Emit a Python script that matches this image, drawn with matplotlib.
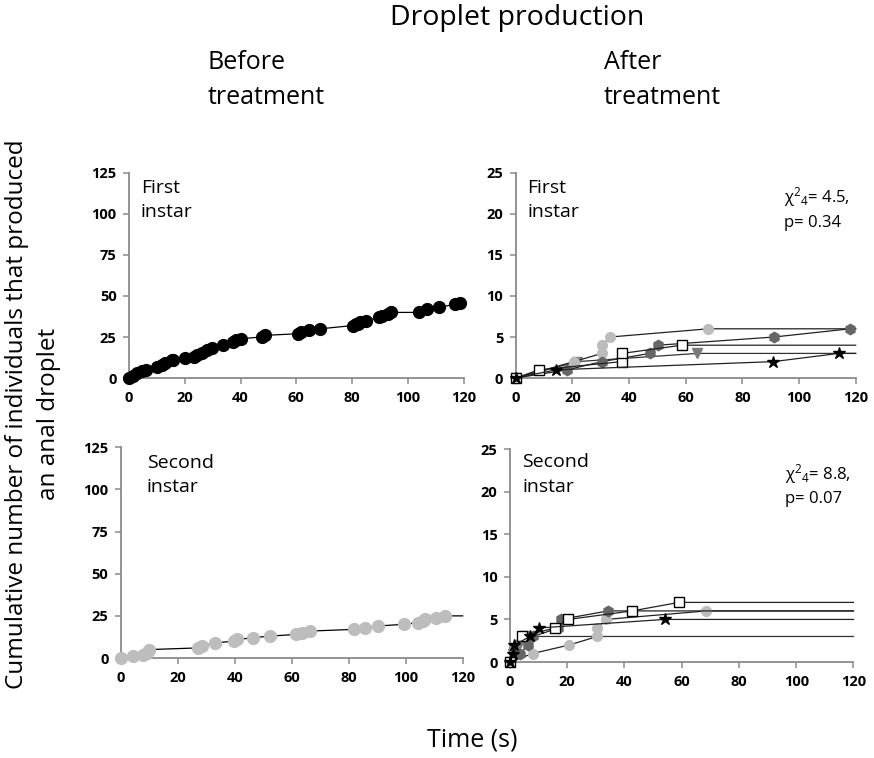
import matplotlib
matplotlib.use("Agg")
import matplotlib.pyplot as plt

plt.rcParams['font.family'] = ['Open Sans', 'DejaVu Sans']
plt.rcParams['mathtext.fontset'] = 'custom'
plt.rcParams['mathtext.rm'] = 'Open Sans'
plt.rcParams['mathtext.it'] = 'Open Sans'

XMAX = 120
x_ticks = [0, 20, 40, 60, 80, 100, 120]
y_ticks_before = [0, 25, 50, 75, 100, 125]
y_ticks_after = [0, 5, 10, 15, 20, 25]

# Before treatment, first instar
tl_x = [0, 1.6, 2.7, 4.5, 6.1, 9.9, 11.7, 12.9, 15.3, 15.9, 20, 23.4, 24.5, 26, 27.8, 29.9,
        33.8, 37.4, 38.5, 40.3, 47.5, 48.7, 60.6, 61.8, 64.4, 68.6, 80.3, 81.3, 82.1, 82.9,
        85, 89.6, 90.8, 92.8, 94, 104, 107, 111.3, 116.7, 118.8]
tl_y = [0, 1, 3, 4, 5, 7, 8, 9, 11, 11, 12, 13, 14, 15, 17, 18, 20, 22, 23, 24, 25, 26, 27,
        28, 29, 30, 32, 33, 33, 34, 35, 37, 38, 39, 40, 40, 42, 43, 45, 46]

# Before treatment, second instar
bl_x = [0, 4.3, 7.8, 9, 9.9, 27, 28.5, 33.1, 39.8, 40.9, 46.2, 52.3, 61.6, 63.4, 66.5, 82,
        85.7, 90.3, 99.4, 104.3, 106, 106.9, 110.7, 113.8]
bl_y = [0, 1, 2, 3, 5, 6, 7, 9, 10, 11, 12, 13, 14, 15, 16, 17, 18, 19, 20, 21, 22, 23, 24, 25]

# After treatment, first instar
tr_light_x = [0, 20.6, 30.4, 30.6, 33.3, 68]
tr_light_y = [0, 2, 3, 4, 5, 6]
tr_dark_x = [0, 18.2, 30.4, 47.4, 50.2, 91.2, 118]
tr_dark_y = [0, 1, 2, 3, 4, 5, 6]
tr_sq_x = [0, 8.2, 37.4, 37.6, 58.6]
tr_sq_y = [0, 1, 2, 3, 4]
tr_tri_x = [0, 21.8, 64.1]
tr_tri_y = [0, 2, 3]
tr_star_x = [0, 14.3, 91, 114]
tr_star_y = [0, 1, 2, 3]

# After treatment, second instar
br_light_x = [0, 7.9, 20.7, 30.5, 30.5, 33.5, 68.6]
br_light_y = [0, 1, 2, 3, 4, 5, 6]
br_dark_x = [0, 3.5, 6.4, 8.1, 16.9, 17.7, 34.3]
br_dark_y = [0, 1, 2, 3, 4, 5, 6]
br_sq_x = [0, 4.1, 15.7, 20.3, 42.7, 59]
br_sq_y = [0, 3, 4, 5, 6, 7]
br_tri_x = [0, 1, 3, 5]
br_tri_y = [0, 1, 2, 3]
br_star_x = [0, 1.2, 1.5, 7, 10.2, 54]
br_star_y = [0, 1, 2, 3, 4, 5]

fig = plt.figure(figsize=(8.74, 7.58), dpi=100)

ax_tl = fig.add_axes([0.1476, 0.5013, 0.383, 0.2705])
ax_tr = fig.add_axes([0.590, 0.5013, 0.389, 0.2705])
ax_bl = fig.add_axes([0.1384, 0.1319, 0.391, 0.278])
ax_br = fig.add_axes([0.5835, 0.1266, 0.393, 0.281])

SPINE = '#8a8a8a'


def style(ax, yticks):
    ax.set_xlim(0, XMAX)
    ax.set_ylim(0, yticks[-1])
    ax.set_xticks(x_ticks)
    ax.set_yticks(yticks)
    for s in ['top', 'right']:
        ax.spines[s].set_visible(False)
    for s in ['left', 'bottom']:
        ax.spines[s].set_color(SPINE)
        ax.spines[s].set_linewidth(1.3)
    ax.tick_params(axis='both', direction='out', length=4, width=1.1, color=SPINE,
                   labelsize=10.5, pad=5)
    for lab in ax.get_xticklabels() + ax.get_yticklabels():
        lab.set_fontweight('bold')
    ax.patch.set_alpha(0)


style(ax_tl, y_ticks_before)
style(ax_bl, y_ticks_before)
style(ax_tr, y_ticks_after)
style(ax_br, y_ticks_after)

LW = 0.9

# Before treatment panels
ax_tl.plot(tl_x, tl_y, color='black', lw=LW, marker='o', ms=8.5, mfc='black', mec='black',
           clip_on=False, zorder=3)
ax_bl.plot(bl_x + [XMAX], bl_y + [bl_y[-1]], color='black', lw=LW, zorder=2, clip_on=False)
ax_bl.plot(bl_x, bl_y, ls='none', marker='o', ms=8.5, mfc='#bdbdbd', mec='#bdbdbd',
           clip_on=False, zorder=3)


def series(ax, xs, ys, marker, ms, fc, ec, lc, z):
    ax.plot(xs + [XMAX], ys + [ys[-1]], color=lc, lw=LW, zorder=z, clip_on=False)
    ax.plot(xs, ys, ls='none', marker=marker, ms=ms, mfc=fc, mec=ec, mew=1.0,
            zorder=z + 0.5, clip_on=False)


LIGHT = '#bcbcbc'
DARK = '#666666'
TRI = '#7a7a7a'

series(ax_tr, tr_tri_x, tr_tri_y, 'v', 7, TRI, TRI, '#333333', 3)
series(ax_tr, tr_light_x, tr_light_y, 'o', 7, LIGHT, LIGHT, '#222222', 4)
series(ax_tr, tr_dark_x, tr_dark_y, 'h', 7.5, DARK, DARK, '#222222', 5)
series(ax_tr, tr_sq_x, tr_sq_y, 's', 7, 'white', 'black', '#222222', 6)
series(ax_tr, tr_star_x, tr_star_y, '*', 9, 'black', 'black', '#222222', 7)

series(ax_br, br_tri_x, br_tri_y, 'v', 7, TRI, TRI, '#333333', 3)
series(ax_br, br_light_x, br_light_y, 'o', 7, LIGHT, LIGHT, '#222222', 4)
series(ax_br, br_dark_x, br_dark_y, 'h', 7.5, DARK, DARK, '#222222', 5)
series(ax_br, br_sq_x, br_sq_y, 's', 7, 'white', 'black', '#222222', 6)
series(ax_br, br_star_x, br_star_y, '*', 9, 'black', 'black', '#222222', 7)

# Panel labels
lab_kw = dict(fontsize=14, va='top', ha='left', linespacing=1.45)
ax_tl.text(0.035, 0.97, 'First\ninstar', transform=ax_tl.transAxes, **lab_kw)
ax_tr.text(0.035, 0.97, 'First\ninstar', transform=ax_tr.transAxes, **lab_kw)
ax_bl.text(0.075, 0.97, 'Second\ninstar', transform=ax_bl.transAxes, **lab_kw)
ax_br.text(0.035, 0.98, 'Second\ninstar', transform=ax_br.transAxes, **lab_kw)

stat_kw = dict(fontsize=12, va='top', ha='left', linespacing=1.45)
ax_tr.text(0.79, 0.94, 'χ$^{2}$$_{4}$= 4.5,\np= 0.34', transform=ax_tr.transAxes, **stat_kw)
ax_br.text(0.80, 0.94, 'χ$^{2}$$_{4}$= 8.8,\np= 0.07', transform=ax_br.transAxes, **stat_kw)

# Titles
fig.text(517 / 874, 1 - 18 / 758, 'Droplet production', ha='center', va='center', fontsize=20.5)
fig.text(208 / 874, 1 - 80 / 758, 'Before\ntreatment', ha='left', va='center', fontsize=18,
         linespacing=1.5)
fig.text(604 / 874, 1 - 80 / 758, 'After\ntreatment', ha='left', va='center', fontsize=18,
         linespacing=1.5)
fig.text(472 / 874, 1 - 740 / 758, 'Time (s)', ha='center', va='center', fontsize=18)
fig.text(33 / 874, 1 - 414 / 758,
         'Cumulative number of individuals that produced\nan anal droplet',
         ha='center', va='center', rotation=90, fontsize=17.5, linespacing=1.4)

fig.savefig('out.png', dpi=100)
